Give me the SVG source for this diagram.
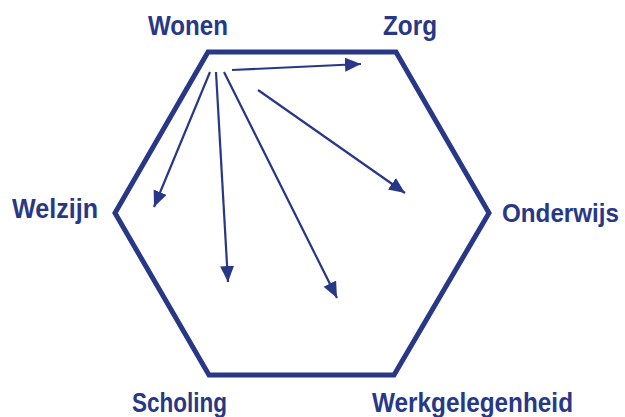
<svg xmlns="http://www.w3.org/2000/svg" width="625" height="417" viewBox="0 0 625 417">
  <defs>
    <marker id="ah" markerUnits="userSpaceOnUse" markerWidth="17" markerHeight="15" refX="16" refY="7" orient="auto">
      <path d="M0,0 L16,7 L0,14 z" fill="#283886"/>
    </marker>
    <style>
      .lbl { font-family: "Liberation Sans", Arial, sans-serif; font-weight: bold; font-size: 27px; fill: #283886; }
      .hex { fill: none; stroke: #283886; stroke-width: 5; stroke-linejoin: miter; }
      .arr { stroke: #283886; stroke-width: 2.2; fill: none; marker-end: url(#ah); }
    </style>
  </defs>
  <rect width="625" height="417" fill="#ffffff"/>
  <g id="hexagon">
    <polygon class="hex" points="208,52 396,52 489,213 394,375 209,375 115,213"/>
  </g>
  <g id="node-wonen"><text class="lbl" x="148" y="35" textLength="80" lengthAdjust="spacingAndGlyphs">Wonen</text></g>
  <g id="node-zorg"><text class="lbl" x="383" y="35" textLength="54" lengthAdjust="spacingAndGlyphs">Zorg</text></g>
  <g id="node-welzijn"><text class="lbl" x="12" y="218" textLength="86" lengthAdjust="spacingAndGlyphs">Welzijn</text></g>
  <g id="node-onderwijs"><text class="lbl" x="502" y="222" style="font-size:25px" textLength="117" lengthAdjust="spacingAndGlyphs">Onderwijs</text></g>
  <g id="node-scholing"><text class="lbl" x="132" y="412" textLength="95" lengthAdjust="spacingAndGlyphs">Scholing</text></g>
  <g id="node-werkgelegenheid"><text class="lbl" x="372" y="412" textLength="201" lengthAdjust="spacingAndGlyphs">Werkgelegenheid</text></g>
  <g id="connectors">
    <line class="arr" x1="232" y1="70" x2="361" y2="64"/>
    <line class="arr" x1="258" y1="90" x2="405" y2="193"/>
    <line class="arr" x1="210" y1="72" x2="154" y2="207"/>
    <line class="arr" x1="216" y1="72" x2="228" y2="282"/>
    <line class="arr" x1="224" y1="72" x2="337" y2="298"/>
  </g>
</svg>
